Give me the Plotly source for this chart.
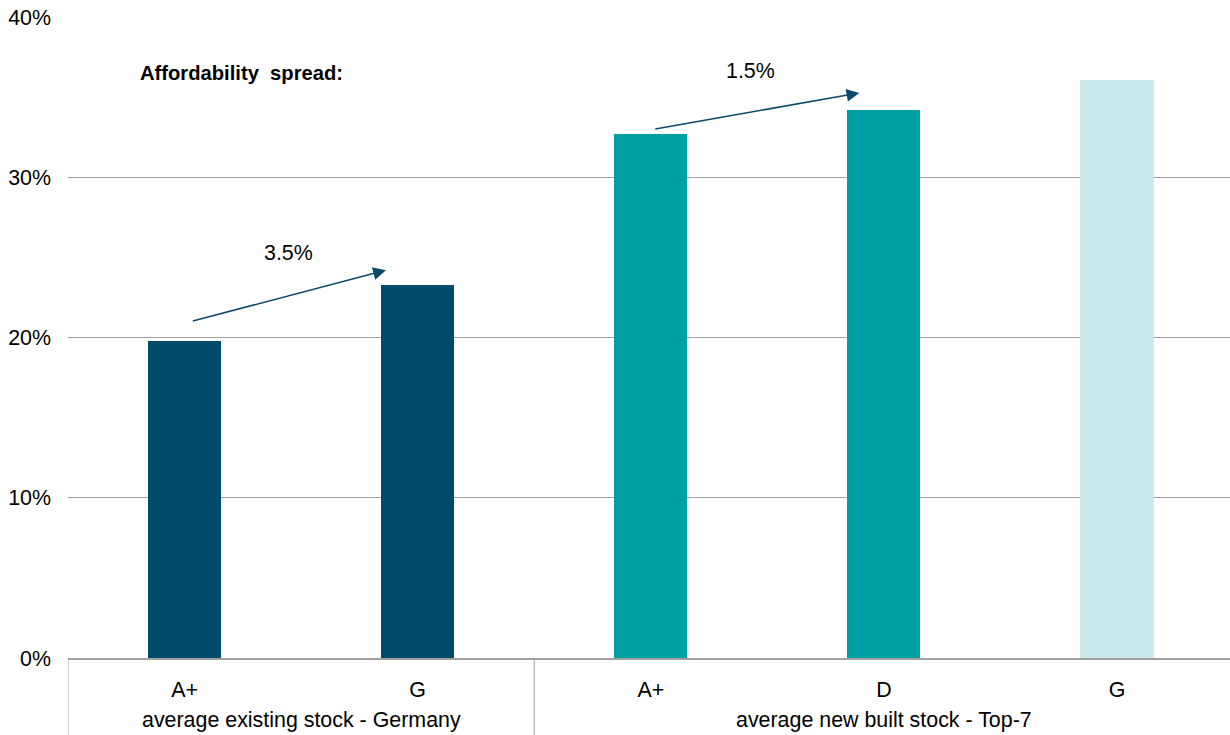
import plotly.graph_objects as go

# ---- data ----
groups = ["average existing stock - Germany", "average existing stock - Germany",
          "average new built stock - Top-7", "average new built stock - Top-7",
          "average new built stock - Top-7"]
classes = ["A+", "G", "A+", "D", "G"]
values = [19.8, 23.3, 32.7, 34.2, 36.1]
bar_colors = ["#004a6b", "#004a6b", "#009fa3", "#009fa3", "#c9e9eb"]
group_names = ["average existing stock - Germany", "average new built stock - Top-7"]
spread_labels = ["3.5%", "1.5%"]
y_ticks = [0, 10, 20, 30, 40]
y_ticktext = ["0%", "10%", "20%", "30%", "40%"]

pos = list(range(len(classes)))
FONT = "Liberation Sans, Arial, sans-serif"
GRID = "#a0a0a0"
ARROW = "#0b4a6c"
FS = 21.4

fig = go.Figure()
fig.add_trace(go.Bar(
    x=pos, y=values, width=0.314,
    marker=dict(color=bar_colors, line=dict(width=0)),
    hoverinfo="skip", showlegend=False,
))

# group centers
grp_centers = []
for g in group_names:
    idx = [i for i, gg in enumerate(groups) if gg == g]
    grp_centers.append((min(idx) + max(idx)) / 2)

for g, c in zip(group_names, grp_centers):
    fig.add_annotation(x=c, xref="x", y=-0.097, yref="paper", text=g,
                       showarrow=False, font=dict(family=FONT, size=FS, color="#000"),
                       xanchor="center", yanchor="middle")

# divider lines below axis
dividers = [-0.5, 1.5]
for d in dividers:
    fig.add_shape(type="line", x0=d, x1=d, xref="x", y0=0, y1=-0.13, yref="paper",
                  line=dict(color=GRID, width=1))

# affordability spread arrows
starts = [(0.029, 21.0), (2.013, 33.0)]
ends = [(0.864, 24.2), (2.895, 35.26)]
text_pos = [(0.447, 25.3), (2.43, 36.6)]
for (sx, sy), (ex, ey), (tx, ty), lab in zip(starts, ends, text_pos, spread_labels):
    fig.add_annotation(x=ex, y=ey, ax=sx, ay=sy, xref="x", yref="y", axref="x", ayref="y",
                       showarrow=True, arrowhead=2, arrowsize=1.6, arrowwidth=1.6,
                       arrowcolor=ARROW, text="", standoff=0)
    fig.add_annotation(x=tx, y=ty, xref="x", yref="y", text=lab, showarrow=False,
                       font=dict(family=FONT, size=FS, color="#000"))

fig.add_annotation(x=-0.199, y=36.5, xref="x", yref="y", text="<b>Affordability  spread:</b>",
                   showarrow=False, xanchor="left", yanchor="middle",
                   font=dict(family=FONT, size=20.2, color="#000"))

fig.update_layout(
    width=1230, height=735,
    margin=dict(l=68, r=0, t=17, b=77),
    paper_bgcolor="white", plot_bgcolor="white",
    font=dict(family=FONT, size=FS, color="#000"),
    xaxis=dict(range=[-0.5, 4.485], tickvals=pos, ticktext=classes, showgrid=False,
               zeroline=False, showline=True, linecolor=GRID, linewidth=2,
               ticks="", ticklabelstandoff=11, tickfont=dict(family=FONT, size=FS, color="#000"),
               fixedrange=True),
    yaxis=dict(range=[0, 40], tickvals=y_ticks, ticktext=y_ticktext, showgrid=True,
               gridcolor=GRID, gridwidth=1, zeroline=False, showline=False, ticks="",
               ticklabelstandoff=16, tickfont=dict(family=FONT, size=FS, color="#000"),
               fixedrange=True),
    bargap=0,
)

fig.write_html("out.html")
